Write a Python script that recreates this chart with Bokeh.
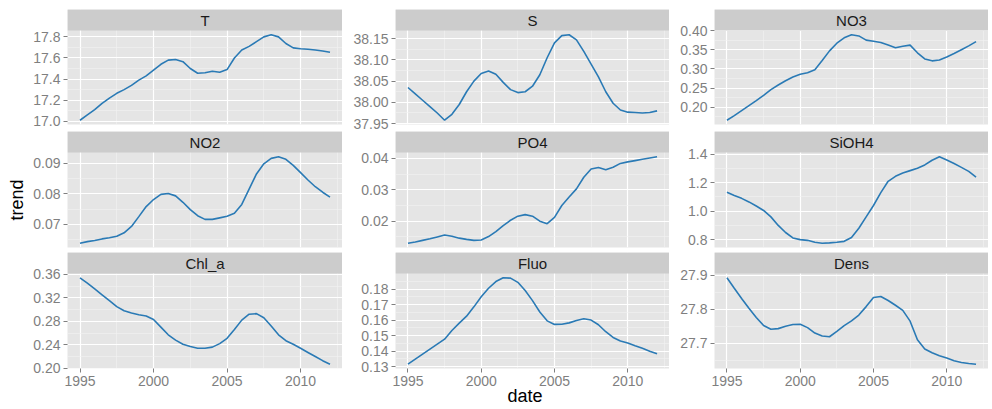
from bokeh.plotting import figure
from bokeh.layouts import column, row
from bokeh.models import Range1d, FixedTicker, PrintfTickFormatter, Label, BoxAnnotation, Title
from bokeh.embed import file_html
from bokeh.resources import INLINE

# ---------------- data ----------------
years = [1995.0, 1995.5, 1996.0, 1996.5, 1997.0, 1997.5, 1998.0, 1998.5, 1999.0, 1999.5,
         2000.0, 2000.5, 2001.0, 2001.5, 2002.0, 2002.5, 2003.0, 2003.5, 2004.0, 2004.5,
         2005.0, 2005.5, 2006.0, 2006.5, 2007.0, 2007.5, 2008.0, 2008.5, 2009.0, 2009.5,
         2010.0, 2010.5, 2011.0, 2011.5, 2012.0]

facets = ["T", "S", "NO3", "NO2", "PO4", "SiOH4", "Chl_a", "Fluo", "Dens"]

T = [17.01, 17.06, 17.11, 17.17, 17.22, 17.265, 17.30, 17.34, 17.39, 17.43,
     17.485, 17.54, 17.58, 17.585, 17.565, 17.50, 17.455, 17.46, 17.475, 17.465,
     17.49, 17.60, 17.675, 17.71, 17.755, 17.80, 17.82, 17.80, 17.737, 17.696,
     17.688, 17.683, 17.676, 17.666, 17.655]
S = [38.035, 38.02, 38.005, 37.99, 37.975, 37.958, 37.972, 37.995, 38.025, 38.05,
     38.068, 38.074, 38.066, 38.047, 38.03, 38.023, 38.025, 38.038, 38.065, 38.105,
     38.14, 38.157, 38.159, 38.147, 38.12, 38.09, 38.06, 38.025, 37.998, 37.982,
     37.977, 37.976, 37.975, 37.976, 37.98]
NO3 = [0.166, 0.178, 0.191, 0.204, 0.217, 0.231, 0.246, 0.258, 0.269, 0.279,
       0.286, 0.290, 0.298, 0.322, 0.347, 0.367, 0.381, 0.389, 0.386, 0.375,
       0.372, 0.369, 0.362, 0.355, 0.359, 0.362, 0.342, 0.326, 0.321, 0.323,
       0.331, 0.340, 0.350, 0.360, 0.371]
NO2 = [0.0638, 0.0643, 0.0647, 0.0652, 0.0656, 0.0661, 0.0672, 0.0693, 0.0725, 0.0758,
       0.0781, 0.0798, 0.0801, 0.0793, 0.0772, 0.0748, 0.0728, 0.0716, 0.0716, 0.0721,
       0.0726, 0.0736, 0.0765, 0.0815, 0.0865, 0.0898, 0.0916, 0.0921, 0.0913, 0.0893,
       0.0869, 0.0845, 0.0823, 0.0805, 0.0789]
PO4 = [0.0130, 0.0134, 0.0139, 0.0144, 0.0150, 0.0156, 0.0152, 0.0146, 0.0142, 0.0139,
       0.0140, 0.0151, 0.0167, 0.0186, 0.0203, 0.0216, 0.0221, 0.0216, 0.0200, 0.0192,
       0.0212, 0.0250, 0.0277, 0.0303, 0.0340, 0.0366, 0.0371, 0.0364, 0.0372, 0.0384,
       0.0389, 0.0393, 0.0397, 0.0401, 0.0405]
SiOH4 = [1.133, 1.110, 1.090, 1.065, 1.036, 1.005, 0.960, 0.900, 0.850, 0.812,
         0.800, 0.795, 0.782, 0.775, 0.777, 0.782, 0.788, 0.815, 0.880, 0.960,
         1.040, 1.130, 1.210, 1.245, 1.268, 1.285, 1.302, 1.325, 1.358, 1.382,
         1.360, 1.335, 1.308, 1.280, 1.240]
Chl_a = [0.354, 0.345, 0.335, 0.325, 0.315, 0.305, 0.298, 0.294, 0.291, 0.289,
         0.283, 0.270, 0.257, 0.248, 0.241, 0.237, 0.234, 0.234, 0.236, 0.242,
         0.251, 0.266, 0.282, 0.292, 0.293, 0.286, 0.272, 0.257, 0.247, 0.241,
         0.234, 0.227, 0.220, 0.213, 0.207]
Fluo = [0.1316, 0.1349, 0.1381, 0.1413, 0.1445, 0.1477, 0.1533, 0.1580, 0.1625, 0.1685,
        0.1750, 0.1805, 0.1848, 0.1872, 0.1870, 0.1843, 0.1790, 0.1725, 0.1652, 0.1595,
        0.1572, 0.1573, 0.1582, 0.1597, 0.1608, 0.1600, 0.1570, 0.1525, 0.1488, 0.1465,
        0.1453, 0.1435, 0.1418, 0.1400, 0.1383]
Dens = [27.893, 27.862, 27.832, 27.803, 27.776, 27.752, 27.741, 27.743, 27.750, 27.755,
        27.756, 27.746, 27.730, 27.721, 27.719, 27.735, 27.752, 27.766, 27.783, 27.808,
        27.835, 27.838, 27.826, 27.812, 27.797, 27.765, 27.710, 27.683, 27.672, 27.663,
        27.656, 27.648, 27.643, 27.640, 27.638]

x_ticks = [1995, 2000, 2005, 2010]
x_minor = [1997.5, 2002.5, 2007.5, 2012.5]

y_ticks = {
    "T": [17.0, 17.2, 17.4, 17.6, 17.8],
    "S": [37.95, 38.00, 38.05, 38.10, 38.15],
    "NO3": [0.20, 0.25, 0.30, 0.35, 0.40],
    "NO2": [0.07, 0.08, 0.09],
    "PO4": [0.02, 0.03, 0.04],
    "SiOH4": [0.8, 1.0, 1.2, 1.4],
    "Chl_a": [0.20, 0.24, 0.28, 0.32, 0.36],
    "Fluo": [0.13, 0.14, 0.15, 0.16, 0.17, 0.18],
    "Dens": [27.7, 27.8, 27.9],
}
y_fmt = {"T": "%.1f", "S": "%.2f", "NO3": "%.2f", "NO2": "%.2f", "PO4": "%.2f",
         "SiOH4": "%.1f", "Chl_a": "%.2f", "Fluo": "%.2f", "Dens": "%.1f"}
series = {"T": T, "S": S, "NO3": NO3, "NO2": NO2, "PO4": PO4, "SiOH4": SiOH4,
          "Chl_a": Chl_a, "Fluo": Fluo, "Dens": Dens}
x_title = "date"
y_title = "trend"

# ---------------- style / layout ----------------
FONT = "Liberation Sans"
LINE = "#2A7AB5"
PANEL_BG = "#E5E5E5"
STRIP_BG = "#CCCCCC"
GREY50 = "#7F7F7F"

W = [342, 327, 319]          # figure widths per column
ML = [67, 53, 45]            # left borders per column
TOP = [9, 0, 0]
BOT = [7, 5, 41]
PANEL_PX = [94, 95, 95]
STRIP_PX = 21


def minors(ticks):
    step = ticks[1] - ticks[0]
    return [ticks[0] - step / 2] + [t + step / 2 for t in ticks]


def make_cell(name, c, r):
    vals = series[name]
    lo, hi = min(vals), max(vals)
    pad = 0.05 * (hi - lo)
    y0, y1 = lo - pad, hi + pad
    ytop = y1 + (y1 - y0) * STRIP_PX / PANEL_PX[r]
    x0, x1 = years[0], years[-1]
    xpad = 0.05 * (x1 - x0)
    bottom = (r == 2)
    p = figure(width=W[c], height=TOP[r] + STRIP_PX + PANEL_PX[r] + BOT[r],
               x_range=Range1d(x0 - xpad, x1 + xpad), y_range=Range1d(y0, ytop),
               output_backend="svg", toolbar_location=None,
               x_axis_location="below" if bottom else None,
               min_border_left=ML[c], min_border_right=0,
               min_border_top=TOP[r], min_border_bottom=BOT[r],
               background_fill_color=PANEL_BG, outline_line_color=None)
    xt = FixedTicker(ticks=x_ticks, minor_ticks=x_minor)
    yt = FixedTicker(ticks=y_ticks[name], minor_ticks=minors(y_ticks[name]))
    p.xgrid.ticker = xt
    p.ygrid.ticker = yt
    p.yaxis.ticker = yt
    p.yaxis.formatter = PrintfTickFormatter(format=y_fmt[name])
    axes = list(p.yaxis)
    if bottom:
        p.xaxis.ticker = xt
        axes += list(p.xaxis)
    for ax in axes:
        ax.axis_line_color = None
        ax.major_tick_out = 4
        ax.major_tick_in = 0
        ax.major_tick_line_color = GREY50
        ax.minor_tick_line_color = None
        ax.major_label_text_color = GREY50
        ax.major_label_text_font = FONT
        ax.major_label_text_font_size = "14px"
        ax.major_label_standoff = 3
    for g in (p.xgrid, p.ygrid):
        g.grid_line_color = "white"
        g.grid_line_width = 1.2
        g.minor_grid_line_color = "#F2F2F2"
        g.minor_grid_line_width = 0.6
    p.line(years, vals, line_color=LINE, line_width=1.6)
    # facet strip
    p.add_layout(BoxAnnotation(bottom=y1, fill_color=STRIP_BG, fill_alpha=1.0,
                               line_color=None))
    p.add_layout(Label(x=(x0 + x1) / 2, y=(y1 + ytop) / 2, text=name,
                       text_align="center", text_baseline="middle",
                       text_font=FONT, text_font_size="15px", text_color="#1A1A1A"))
    return p


cells = []
for i, name in enumerate(facets):
    r, c = divmod(i, 3)
    p = make_cell(name, c, r)
    if name == "NO2":
        p.add_layout(Title(text=y_title, align="left", offset=27, vertical_align="top",
                           standoff=4, text_font=FONT, text_font_size="18px",
                           text_font_style="normal", text_color="black"), "left")
    if name == "Fluo":
        p.add_layout(Title(text=x_title, align="left", offset=112, vertical_align="top",
                           standoff=-6, text_font=FONT, text_font_size="18px",
                           text_font_style="normal", text_color="black"), "below")
    cells.append(p)

layout = column(row(cells[0], cells[1], cells[2], spacing=0),
                row(cells[3], cells[4], cells[5], spacing=0),
                row(cells[6], cells[7], cells[8], spacing=0), spacing=0)

open("out.html", "w").write(file_html(layout, INLINE))
